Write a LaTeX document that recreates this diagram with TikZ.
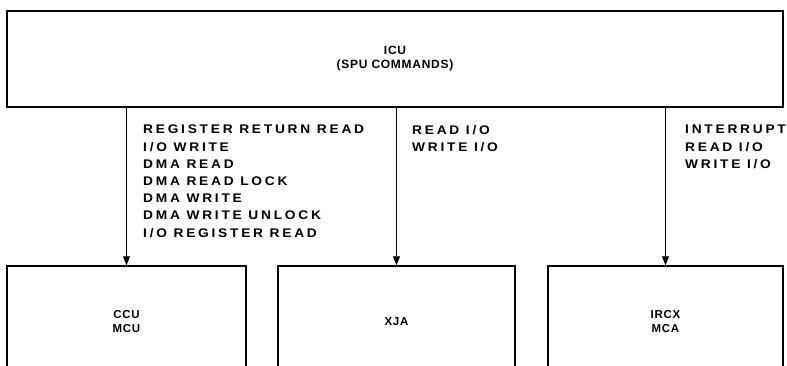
\documentclass[tikz,border=0pt]{standalone}
\usepackage{fontspec}
\setmainfont{Liberation Sans}
\newfontfamily\unitfont[LetterSpace=6]{Liberation Sans}
\newfontfamily\cmdfont[FakeStretch=1.1,LetterSpace=22]{Liberation Sans}
\usetikzlibrary{positioning,arrows.meta}
\tikzset{
  unitbox/.style={draw,line width=1.5pt,align=center,inner sep=0pt,
    font=\unitfont\fontsize{11.5}{14}\selectfont\bfseries},
  cmdlist/.style={anchor=north west,align=left,inner sep=0pt,
    font=\cmdfont\fontsize{12.5}{17.2}\selectfont\bfseries},
  cmdline/.style={line width=0.9pt,-{Triangle[length=9pt,width=7pt]}},
}

\begin{document}
\begin{tikzpicture}[x=1pt,y=-1pt]
  \useasboundingbox (0,0) rectangle (787,366);
  \clip (0,0) rectangle (787,366);
  \node[unitbox,minimum width=776pt,minimum height=96pt,
    font=\unitfont\fontsize{12}{14}\selectfont\bfseries] (icu) at (395,59) {ICU\\(SPU COMMANDS)};
  \node[unitbox,minimum width=239pt,minimum height=112pt] (ccu) at (126.5,322) {CCU\\MCU};
  \node[unitbox,minimum width=237pt,minimum height=112pt] (xja) at (396.5,322) {XJA};
  \node[unitbox,minimum width=235pt,minimum height=112pt] (ircx) at (665.5,322) {IRCX\\MCA};
  \draw[cmdline] (ccu.north |- icu.south) -- (ccu.north);
  \draw[cmdline] (xja.north |- icu.south) -- (xja.north);
  \draw[cmdline] (ircx.north |- icu.south) -- (ircx.north);
  \node[cmdlist] (ccucmd) at (143,125) {REGISTER RETURN READ\\I/O WRITE\\DMA READ\\DMA READ LOCK\\DMA WRITE\\DMA WRITE UNLOCK\\I/O REGISTER READ};
  \node[cmdlist] (xjacmd) at (412,125) {READ I/O\\WRITE I/O};
  \node[cmdlist] (ircxcmd) at (685,125) {INTERRUPT\\READ I/O\\WRITE I/O};
\end{tikzpicture}
\end{document}
